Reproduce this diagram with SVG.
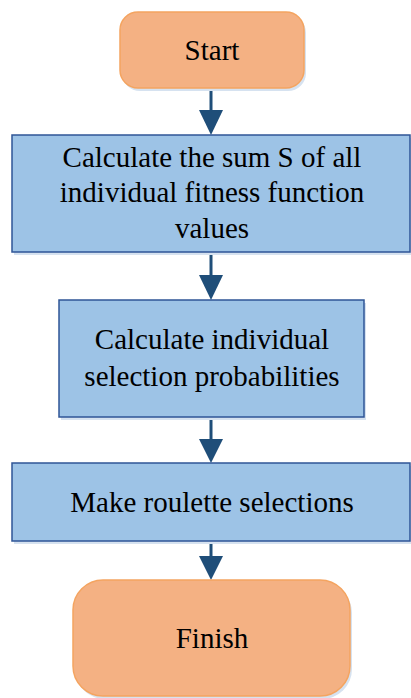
<svg xmlns="http://www.w3.org/2000/svg" width="411" height="698" viewBox="0 0 411 698">
<defs>
<style>
.term{fill:#F4B183;stroke:#F4A460;stroke-width:1.5}
.proc{fill:#9DC3E6;stroke:#2F5597;stroke-width:1.5}
.shd{fill:#D6E2F0}
.conn{stroke:#1F4E79;stroke-width:3;fill:none}
</style>
</defs>
<rect width="411" height="698" fill="#fff"/>
<g id="connectors">
<line class="conn" x1="211" y1="88" x2="211" y2="112"/>
<path d="M199,110 L223,110 L211,135 Z" fill="#1F4E79"/>
<line class="conn" x1="211" y1="252" x2="211" y2="277"/>
<path d="M199,275 L223,275 L211,300 Z" fill="#1F4E79"/>
<line class="conn" x1="211" y1="417" x2="211" y2="441"/>
<path d="M199,439 L223,439 L211,463 Z" fill="#1F4E79"/>
<line class="conn" x1="211" y1="541" x2="211" y2="558"/>
<path d="M199,556 L223,556 L211,580 Z" fill="#1F4E79"/>
</g>
<g id="start">
<rect class="shd" x="122" y="15" width="184" height="76" rx="18"/>
<rect class="term" x="120" y="12" width="184" height="76" rx="18"/>
<text x="212" y="60" font-family="Liberation Serif" font-size="29" text-anchor="middle">Start</text>
</g>
<g id="sum">
<rect class="shd" x="14" y="138" width="398" height="117"/>
<rect class="proc" x="12" y="135" width="398" height="117"/>
<text x="212" y="167" font-family="Liberation Serif" font-size="29" text-anchor="middle">Calculate the sum S of all</text>
<text x="212" y="202" font-family="Liberation Serif" font-size="29" text-anchor="middle">individual fitness function</text>
<text x="212" y="238" font-family="Liberation Serif" font-size="29" text-anchor="middle">values</text>
</g>
<g id="prob">
<rect class="shd" x="61" y="303" width="305" height="117"/>
<rect class="proc" x="59" y="300" width="305" height="117"/>
<text x="212" y="349" font-family="Liberation Serif" font-size="29" text-anchor="middle">Calculate individual</text>
<text x="212" y="386" font-family="Liberation Serif" font-size="29" text-anchor="middle">selection probabilities</text>
</g>
<g id="roulette">
<rect class="shd" x="14" y="466" width="398" height="78"/>
<rect class="proc" x="12" y="463" width="398" height="78"/>
<text x="212" y="512" font-family="Liberation Serif" font-size="29" text-anchor="middle">Make roulette selections</text>
</g>
<g id="finish">
<rect class="shd" x="75" y="583" width="277" height="116" rx="30"/>
<rect class="term" x="73" y="580" width="277" height="116" rx="30"/>
<text x="212" y="648" font-family="Liberation Serif" font-size="29" text-anchor="middle">Finish</text>
</g>
</svg>
